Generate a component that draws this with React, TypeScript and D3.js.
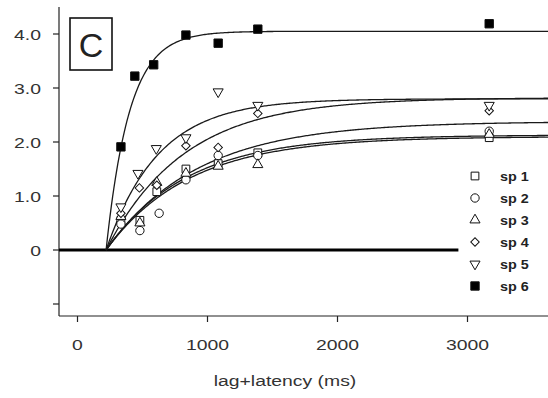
import React, { useRef, useEffect } from "react";
import * as d3 from "d3";

const species = ["sp 1", "sp 2", "sp 3", "sp 4", "sp 5", "sp 6"];
const shapes = ["square", "circle", "triangle", "diamond", "triangleDown", "filledSquare"];

const times1 = [334, 480, 610, 834, 1082, 1387, 3167];
const values1 = [0.55, 0.55, 1.08, 1.5, 1.6, 1.8, 2.08];
const times2 = [334, 480, 628, 834, 1082, 1387, 3167];
const values2 = [0.48, 0.36, 0.68, 1.3, 1.75, 1.75, 2.2];
const times3 = [334, 480, 610, 834, 1082, 1387, 3167];
const values3 = [0.62, 0.5, 1.25, 1.42, 1.55, 1.58, 2.14];
const times4 = [334, 476, 610, 834, 1082, 1387, 3167];
const values4 = [0.68, 1.15, 1.2, 1.93, 1.9, 2.53, 2.58];
const times5 = [334, 465, 606, 834, 1082, 1387, 3167];
const values5 = [0.8, 1.42, 1.88, 2.08, 2.93, 2.68, 2.68];
const times6 = [334, 441, 586, 834, 1082, 1387, 3167];
const values6 = [1.91, 3.22, 3.43, 3.98, 3.83, 4.09, 4.19];

// fitted curves: y = A * (1 - exp(-(t - t0) / tau))
const fitA = [2.13, 2.1, 2.38, 2.82, 2.8, 4.05];
const fitTau = [620, 640, 700, 600, 400, 180];
const fitT0 = 220;

const xTicks = [0, 1000, 2000, 3000];
const yTicks = [-1, 0, 1, 2, 3, 4];
const yTickLabels = ["", "0", "1.0", "2.0", "3.0", "4.0"];

export default function App() {
  const ref = useRef<SVGSVGElement>(null);

  useEffect(() => {
    const svg = d3.select(ref.current);
    svg.selectAll("*").remove();

    const x = d3.scaleLinear().domain([0, 3000]).range([77.5, 467.5]);
    const y = d3.scaleLinear().domain([0, 4]).range([250, 34]);
    const left = 59, bottom = 316, top = 7, right = 548;
    const font = "'Liberation Sans', Arial, sans-serif";
    const stretch = 1.25;

    // text with the wide look of the scanned figure
    const label = (tx: number, ty: number, s: string, size: number, anchor: string) =>
      svg.append("text")
        .attr("transform", `translate(${tx},${ty}) scale(${stretch},1)`)
        .attr("text-anchor", anchor)
        .attr("font-family", font).attr("font-size", size).attr("fill", "#333")
        .text(s);

    // axes
    svg.append("line").attr("x1", left).attr("x2", left).attr("y1", top).attr("y2", bottom)
      .attr("stroke", "#222").attr("stroke-width", 1.2);
    svg.append("line").attr("x1", left).attr("x2", right).attr("y1", bottom).attr("y2", bottom)
      .attr("stroke", "#222").attr("stroke-width", 1.2);

    yTicks.forEach((t, i) => {
      svg.append("line").attr("x1", left - 6).attr("x2", left).attr("y1", y(t)).attr("y2", y(t))
        .attr("stroke", "#222").attr("stroke-width", 1.2);
      label(41, y(t) + 5.5, yTickLabels[i], 15.5, "end");
    });
    xTicks.forEach(t => {
      svg.append("line").attr("x1", x(t)).attr("x2", x(t)).attr("y1", bottom).attr("y2", bottom + 6)
        .attr("stroke", "#222").attr("stroke-width", 1.2);
      label(x(t), 350, String(t), 15.5, "middle");
    });
    label(285, 386, "lag+latency (ms)", 15.5, "middle");

    // panel label
    svg.append("rect").attr("x", 70).attr("y", 18).attr("width", 42).attr("height", 52)
      .attr("fill", "none").attr("stroke", "#111").attr("stroke-width", 1.6);
    svg.append("text").attr("x", 91).attr("y", 57).attr("text-anchor", "middle")
      .attr("font-family", font).attr("font-size", 34).attr("fill", "#222").text("C");

    // zero line
    svg.append("line").attr("x1", left).attr("x2", x(2930)).attr("y1", y(0)).attr("y2", y(0))
      .attr("stroke", "#000").attr("stroke-width", 3);

    // fitted curves
    const tEnd = x.invert(right);
    const ts = d3.range(fitT0, tEnd, 10).concat([tEnd]);
    const line = d3.line<number[]>().x(d => x(d[0])).y(d => y(d[1]));
    fitA.forEach((A, i) => {
      const pts = ts.map(t => [t, A * (1 - Math.exp(-(t - fitT0) / fitTau[i]))]);
      svg.append("path").attr("d", line(pts)).attr("fill", "none")
        .attr("stroke", "#1a1a1a").attr("stroke-width", 1.3);
    });

    // markers
    const symbolPath = (shape: string) => {
      switch (shape) {
        case "square": return d3.symbol(d3.symbolSquare, 60)();
        case "filledSquare": return d3.symbol(d3.symbolSquare, 70)();
        case "circle": return d3.symbol(d3.symbolCircle, 55)();
        case "triangle":
        case "triangleDown": return d3.symbol(d3.symbolTriangle, 44)();
        case "diamond": return d3.symbol(d3.symbolSquare, 36)();
        default: return d3.symbol(d3.symbolSquare, 60)();
      }
    };
    const rot = (shape: string) =>
      shape === "triangleDown" ? " rotate(180)" : shape === "diamond" ? " rotate(45)" : "";
    const drawMarker = (g: any, shape: string, cx: number, cy: number) => {
      g.append("path").attr("d", symbolPath(shape))
        .attr("transform", `translate(${cx},${cy})${rot(shape)}`)
        .attr("fill", shape === "filledSquare" ? "#000" : "#fff")
        .attr("stroke", "#111").attr("stroke-width", 1);
    };

    const allTimes = [times1, times2, times3, times4, times5, times6];
    const allValues = [values1, values2, values3, values4, values5, values6];
    const pg = svg.append("g");
    allTimes.forEach((tt, i) => {
      tt.forEach((t, j) => drawMarker(pg, shapes[i], x(t), y(allValues[i][j])));
    });

    // legend
    species.forEach((s, i) => {
      const ly = 176 + i * 22;
      drawMarker(svg, shapes[i], 475, ly);
      svg.append("text")
        .attr("transform", `translate(500,${ly + 4.5}) scale(1.15,1)`)
        .attr("font-family", font).attr("font-size", 12.5).attr("font-weight", "bold")
        .attr("fill", "#222").text(s);
    });
  }, []);

  return (
    <svg ref={ref} width={548} height={398}
      style={{ position: "absolute", left: 0, top: 0, background: "#fff" }} />
  );
}
